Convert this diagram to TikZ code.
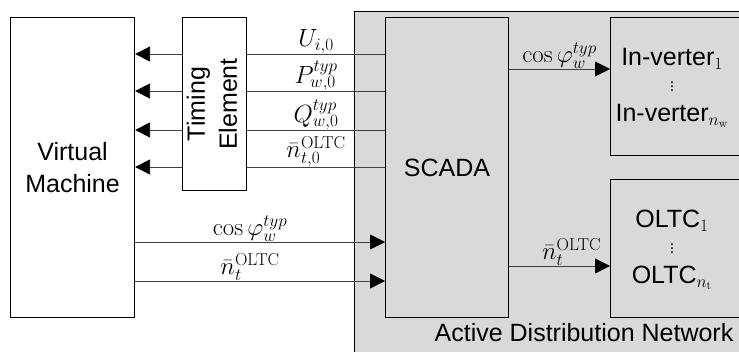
\documentclass[tikz,border=0pt]{standalone}
\usepackage[no-math]{fontspec}
\setmainfont{Liberation Sans}
\usetikzlibrary{arrows.meta,positioning}
\definecolor{adngray}{RGB}{217,217,217}
\tikzset{
  blk/.style={draw, line width=1.1pt, anchor=north west, inner sep=0pt,
    font=\fontsize{25}{32}\selectfont, align=center},
  sig/.style={draw=black!75, line width=0.8pt},
  tip/.style={-{Triangle[length=15pt,width=15pt,color=black]}},
  lbl/.style={font=\fontsize{26}{28}\selectfont, inner sep=0pt, above},
}

\begin{document}
\begin{tikzpicture}[x=1pt, y=-1pt]
  \useasboundingbox (0,0) rectangle (739,351);
  \clip (0,0) rectangle (739,351);

  % Active distribution network (runs off the page)
  \node[blk, fill=adngray, line width=1pt, minimum width=420, minimum height=360] (adn) at (354,11) {};
  \node[font=\fontsize{25}{25}\selectfont] (adnlbl) at (584,333) {Active Distribution Network};

  % Boxes
  \node[blk, minimum width=124, minimum height=300] (vm) at (10,17) {Virtual\\Machine};
  \node[blk, minimum width=64, minimum height=173] (tim) at (182,17)
    {\rotatebox{90}{\begin{tabular}{@{}c@{}}Timing\\Element\end{tabular}}};
  \node[blk, fill=adngray, minimum width=123, minimum height=300] (scada) at (385,17) {SCADA};
  \node[blk, fill=adngray, minimum width=150, minimum height=138] (inv) at (610,17) {};
  \node[blk, fill=adngray, minimum width=150, minimum height=138] (oltc) at (610,179) {};
  \node[font=\fontsize{25}{30}\selectfont, align=center] (invtxt) at (672,88)
    {In-verter$_1$\\[-4pt] {\fontsize{16}{16}\selectfont$\vdots$}\\[0pt] In-verter$_{n_\mathrm{w}}$};
  \node[font=\fontsize{25}{30}\selectfont, align=center] (oltctxt) at (672,250)
    {OLTC$_1$\\[-4pt] {\fontsize{16}{16}\selectfont$\vdots$}\\[0pt] OLTC$_{n_\mathrm{t}}$};

  % Signal rows
  \coordinate (rU) at (0,54);
  \coordinate (rP) at (0,91);
  \coordinate (rQ) at (0,130);
  \coordinate (rN) at (0,167);
  \coordinate (rC) at (0,242);
  \coordinate (rT) at (0,281);
  \coordinate (rI) at (0,69);
  \coordinate (rO) at (0,266);

  % Measurements via the timing element
  \draw[sig] (scada.west |- rU) -- node[lbl] {$U_{i,0}$} (tim.east |- rU);
  \draw[sig] (scada.west |- rP) -- node[lbl] {$P_{w,0}^{typ}$} (tim.east |- rP);
  \draw[sig] (scada.west |- rQ) -- node[lbl] {$Q_{w,0}^{typ}$} (tim.east |- rQ);
  \draw[sig] (scada.west |- rN) -- node[lbl] {$\bar{n}_{t,0}^{\mathrm{OLTC}}$} (tim.east |- rN);
  \foreach \r in {rU,rP,rQ,rN}
    \draw[sig, tip] (tim.west |- \r) -- (vm.east |- \r);

  % Set points back to the network
  \draw[sig, tip] (vm.east |- rC) -- node[lbl, pos=0.46] {$\cos\varphi_w^{typ}$} (scada.west |- rC);
  \draw[sig, tip] (vm.east |- rT) -- node[lbl, pos=0.46] {$\bar{n}_t^{\mathrm{OLTC}}$} (scada.west |- rT);
  \draw[sig, tip] (scada.east |- rI) -- node[lbl] {$\cos\varphi_w^{typ}$} (inv.west |- rI);
  \draw[sig, tip] (scada.east |- rO) -- node[lbl, pos=0.62] {$\bar{n}_t^{\mathrm{OLTC}}$} (oltc.west |- rO);
\end{tikzpicture}
\end{document}
